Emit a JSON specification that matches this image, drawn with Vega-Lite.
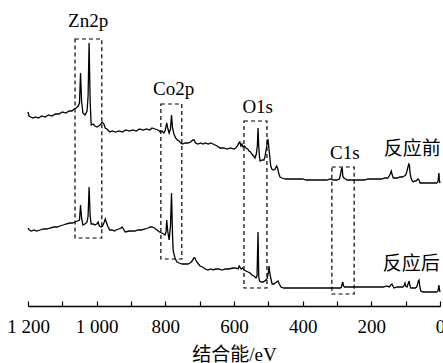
{
  "$schema": "https://vega.github.io/schema/vega-lite/v6.json",
  "width": 412,
  "height": 306,
  "autosize": {"type": "none"},
  "padding": {"left": 28, "top": 0, "right": 3, "bottom": 57},
  "config": {"view": {"stroke": null}},
  "datasets": {
    "before": [
      [1200,194],[1197,190],[1192,189],[1186,188],[1178,189],[1170,188],[1160,190],[1150,189],[1140,191],[1130,190],[1120,192],[1110,192],[1100,194],[1090,193],[1080,195],[1072,195],[1066,197],[1060,198],[1054,200],[1050,203],[1047,233],[1044,205],[1040,193],[1034,191],[1028,195],[1025,210],[1022,263],[1019,205],[1016,181],[1010,182],[1005,180],[999,179],[994,180],[990,181],[984,184],[979,182],[975,178],[970,177],[962,174],[955,175],[945,174],[935,175],[925,174],[915,176],[905,175],[895,176],[885,175],[875,177],[865,176],[855,177],[845,176],[839,178],[830,177],[821,176],[815,174],[810,175],[804,173],[800,176],[796,183],[793,178],[789,173],[785,177],[782,191],[779,178],[775,172],[770,168],[765,166],[760,165],[755,163],[750,162],[742,163],[734,163],[726,164],[720,166],[716,166],[712,163],[705,162],[697,163],[690,162],[684,163],[675,162],[668,163],[661,162],[655,161],[649,160],[641,158],[630,158],[620,157],[610,158],[600,157],[595,158],[590,160],[586,163],[583,164],[580,160],[577,162],[574,159],[570,160],[565,158],[560,157],[556,155],[552,154],[548,152],[543,150],[539,148],[535,152],[532,160],[530,178],[528,160],[526,150],[524,145],[518,146],[513,146],[510,149],[507,155],[503,163],[501,167],[499,160],[496,150],[493,140],[490,137],[485,136],[480,137],[476,140],[473,138],[470,133],[466,129],[460,128],[450,127],[440,127],[430,127],[420,127],[410,127],[400,127],[390,126],[380,126],[370,126],[360,126],[350,126],[340,126],[330,126],[320,127],[310,126],[300,126],[293,127],[290,131],[287,137],[285,138],[283,130],[280,128],[275,127],[271,126],[260,126],[250,126],[240,126],[233,126],[220,126],[210,127],[200,127],[190,127],[180,127],[170,127],[160,128],[152,128],[148,130],[145,132],[142,135],[139,131],[136,128],[130,128],[124,128],[117,129],[110,129],[104,130],[100,131],[97,134],[94,138],[91,142],[89,141],[87,132],[84,128],[81,125],[78,124],[74,125],[70,125],[67,126],[64,127],[61,126],[58,123],[50,123],[40,123],[30,123],[20,123],[10,123],[6,124],[4,130],[3,133],[2,126],[0,123]
    ],
    "after": [
      [1200,78],[1196,76],[1190,75],[1182,76],[1175,75],[1165,76],[1155,77],[1145,77],[1136,78],[1125,79],[1115,79],[1107,80],[1098,81],[1090,82],[1078,83],[1070,83],[1063,84],[1056,85],[1050,86],[1047,101],[1044,88],[1040,81],[1034,82],[1028,84],[1025,90],[1022,119],[1019,90],[1016,82],[1010,82],[1005,81],[1000,82],[996,84],[992,80],[987,79],[983,80],[979,83],[975,87],[972,84],[968,80],[962,76],[955,76],[948,75],[944,76],[935,77],[929,78],[926,79],[922,77],[917,74],[905,75],[895,75],[888,75],[880,76],[870,76],[859,77],[850,78],[844,79],[839,79],[832,78],[824,76],[817,74],[810,73],[805,72],[801,71],[798,74],[796,86],[793,75],[789,66],[785,80],[782,113],[779,70],[777,55],[772,48],[766,44],[760,43],[751,42],[743,42],[734,42],[728,43],[722,45],[717,48],[714,48],[710,45],[706,43],[699,40],[692,39],[684,37],[676,36],[667,37],[660,36],[655,37],[645,37],[635,36],[626,37],[615,37],[603,38],[595,38],[588,37],[585,40],[583,39],[579,37],[575,38],[571,36],[565,35],[559,34],[553,33],[548,31],[542,30],[536,28],[533,30],[530,74],[528,30],[526,25],[520,24],[515,24],[507,26],[503,28],[500,33],[498,40],[496,34],[493,28],[491,25],[489,22],[484,22],[480,23],[476,24],[472,25],[468,22],[463,19],[455,18],[445,18],[435,18],[420,18],[400,18],[380,18],[360,18],[340,18],[320,18],[300,18],[290,18],[287,19],[285,22],[283,24],[281,20],[278,19],[270,19],[255,19],[240,19],[220,19],[200,19],[180,19],[165,19],[155,20],[148,19],[143,21],[140,22],[137,20],[134,18],[125,19],[115,19],[108,19],[104,21],[102,23],[100,20],[96,19],[93,22],[90,25],[88,21],[85,18],[78,18],[72,18],[68,19],[65,22],[63,25],[61,26],[59,20],[56,15],[50,14],[40,14],[30,14],[20,14],[10,14],[6,15],[4,19],[3,21],[2,17],[0,14]
    ],
    "boxes": [
      {"name": "Zn2p", "x1": 1063, "x2": 985, "y1": 68, "y2": 267},
      {"name": "Co2p", "x1": 813, "x2": 752, "y1": 47, "y2": 202},
      {"name": "O1s", "x1": 571, "x2": 504, "y1": 18, "y2": 185},
      {"name": "C1s", "x1": 315, "x2": 250, "y1": 12, "y2": 139}
    ],
    "labels": [
      {"text": "Zn2p", "eV": 1025, "intensity": 279},
      {"text": "Co2p", "eV": 776, "intensity": 211},
      {"text": "O1s", "eV": 531, "intensity": 193},
      {"text": "C1s", "eV": 277, "intensity": 147},
      {"text": "反应前", "eV": 81, "intensity": 151},
      {"text": "反应后", "eV": 84, "intensity": 36}
    ]
  },
  "layer": [
    {
      "data": {"name": "boxes"},
      "mark": {"type": "rect", "fillOpacity": 0, "stroke": "black", "strokeWidth": 1.2, "strokeDash": [4, 3]},
      "encoding": {
        "x": {"field": "x1", "type": "quantitative"},
        "x2": {"field": "x2"},
        "y": {"field": "y1", "type": "quantitative"},
        "y2": {"field": "y2"}
      }
    },
    {
      "data": {"name": "before"},
      "transform": [
        {"calculate": "datum[0]", "as": "eV"},
        {"calculate": "datum[1]", "as": "intensity"}
      ],
      "mark": {"type": "line", "color": "black", "strokeWidth": 1.3},
      "encoding": {
        "x": {"field": "eV", "type": "quantitative"},
        "y": {"field": "intensity", "type": "quantitative"}
      }
    },
    {
      "data": {"name": "after"},
      "transform": [
        {"calculate": "datum[0]", "as": "eV"},
        {"calculate": "datum[1]", "as": "intensity"}
      ],
      "mark": {"type": "line", "color": "black", "strokeWidth": 1.3},
      "encoding": {
        "x": {"field": "eV", "type": "quantitative"},
        "y": {"field": "intensity", "type": "quantitative"}
      }
    },
    {
      "data": {"name": "labels"},
      "mark": {"type": "text", "font": "'Liberation Serif', 'Times New Roman', 'DejaVu Serif', 'Noto Sans CJK SC'", "fontSize": 19, "color": "black", "baseline": "alphabetic", "align": "center"},
      "encoding": {
        "x": {"field": "eV", "type": "quantitative"},
        "y": {"field": "intensity", "type": "quantitative"},
        "text": {"field": "text"}
      }
    }
  ],
  "encoding": {
    "x": {
      "type": "quantitative",
      "scale": {"domain": [0, 1200], "reverse": true, "nice": false, "zero": false},
      "axis": {
        "title": "结合能/eV",
        "titleFont": "'Liberation Serif', 'Times New Roman', 'DejaVu Serif', 'Noto Sans CJK SC'",
        "titleFontSize": 19,
        "titleFontWeight": "normal",
        "titleColor": "black",
        "titlePadding": 9,
        "values": [0, 100, 200, 300, 400, 500, 600, 700, 800, 900, 1000, 1100, 1200],
        "labelExpr": "datum.value % 200 === 0 ? replace(format(datum.value, ','), ',', ' ') : ''",
        "labelFont": "'Liberation Serif', 'Times New Roman', 'DejaVu Serif'",
        "labelFontSize": 19,
        "labelColor": "black",
        "labelPadding": 16,
        "labelFlush": false,
        "labelOverlap": false,
        "tickSize": -5,
        "tickColor": "black",
        "tickWidth": 1.2,
        "domainColor": "black",
        "domainWidth": 1.3,
        "grid": false
      }
    },
    "y": {
      "type": "quantitative",
      "scale": {"domain": [0, 306], "nice": false, "zero": false},
      "axis": null
    }
  }
}
